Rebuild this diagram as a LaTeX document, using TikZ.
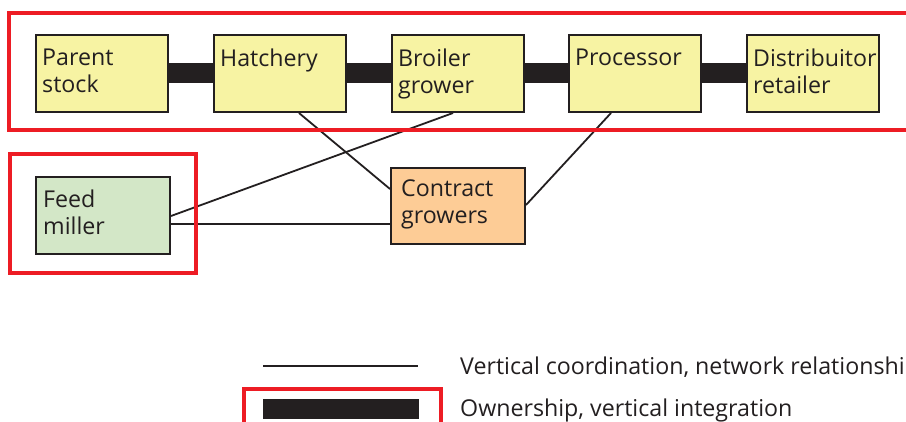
\documentclass[tikz,border=0pt]{standalone}
\usepackage{fontspec}
\setmainfont{Open Sans}
\usetikzlibrary{calc}
\definecolor{stageyellow}{HTML}{F7F3A3}
\definecolor{feedgreen}{HTML}{D3E7C7}
\definecolor{contractorange}{HTML}{FDCC96}
\definecolor{groupred}{HTML}{ED1C24}
\definecolor{inkblack}{HTML}{231F20}
\tikzset{
  stagebox/.style={draw=inkblack, line width=2pt, anchor=north west,
    minimum width=132pt, minimum height=77pt, inner sep=0pt},
  boxlabel/.style={anchor=north west, align=left, inner sep=0pt,
    font=\fontsize{23.2}{27}\selectfont, text=inkblack},
  ownbar/.style={draw=inkblack, line width=20pt},
  netline/.style={draw=inkblack, line width=1.8pt},
  groupframe/.style={draw=groupred, line width=4pt},
  legendtext/.style={anchor=west, inner sep=0pt,
    font=\fontsize{23.2}{27}\selectfont, text=inkblack},
}
\begin{document}
\begin{tikzpicture}[x=1pt,y=-1pt]
\useasboundingbox (0,0) rectangle (906,422);
\clip (0,0) rectangle (906,422);
\fill[white] (0,0) rectangle (906,422);

% production chain
\node[stagebox, fill=stageyellow] (ps)  at (35,34)  {};
\node[stagebox, fill=stageyellow] (hat) at (213,34) {};
\node[stagebox, fill=stageyellow] (bro) at (391,34) {};
\node[stagebox, fill=stageyellow] (pro) at (568,34) {};
\node[stagebox, fill=stageyellow] (dis) at (746,34) {};

% ownership links along the chain
\draw[ownbar] (ps.east)  -- (hat.west);
\draw[ownbar] (hat.east) -- (bro.west);
\draw[ownbar] (bro.east) -- (pro.west);
\draw[ownbar] (pro.east) -- (dis.west);

% feed and contract growers
\node[stagebox, fill=feedgreen, minimum width=134pt, minimum height=77pt] (fm) at (35,176) {};
\node[stagebox, fill=contractorange, minimum width=134pt, minimum height=76pt] (cg) at (390,167) {};

% network relationships
\draw[netline] ([xshift=86pt]hat.south west) -- ([yshift=-22pt]cg.north west);
\draw[netline] ([xshift=62pt]bro.south west) -- ([yshift=-40pt]fm.north east);
\draw[netline] ([xshift=43pt]pro.south west) -- ([yshift=-38pt]cg.north east);
\draw[netline] ([yshift=-48pt]fm.north east) coordinate (fmc) -- (fmc -| cg.west);

% box texts
\node[boxlabel] at ([xshift=7pt,yshift=-15pt]ps.north west)  {Parent\\stock};
\node[boxlabel] at ([xshift=7pt,yshift=-15pt]hat.north west) {Hatchery};
\node[boxlabel] at ([xshift=7pt,yshift=-15pt]bro.north west) {Broiler\\grower};
\node[boxlabel] at ([xshift=7pt,yshift=-15pt]pro.north west) {Processor};
\node[boxlabel] at ([xshift=7pt,yshift=-15pt]dis.north west) {Distribuitor\\retailer};
\node[boxlabel] at ([xshift=8pt,yshift=-14pt]fm.north west)  {Feed\\miller};
\node[boxlabel] at ([xshift=11pt,yshift=-13pt]cg.north west) {Contract\\growers};

% integrated groups
\draw[groupframe] (9,13) rectangle (960,130);
\draw[groupframe] (10,154) rectangle (196,273);

% legend
\coordinate (la) at (263,366);
\coordinate (lb) at (418,366);
\draw[netline] (la) -- (lb);
\node[legendtext] (lt1) at (460,368) {Vertical coordination, network relationship};
\draw[groupframe] (244,389) rectangle (441,440);
\coordinate (ba) at (263,409);
\coordinate (bb) at (419,409);
\draw[ownbar] (ba) -- (bb);
\node[legendtext] (lt2) at (460,410) {Ownership, vertical integration};
\end{tikzpicture}
\end{document}
